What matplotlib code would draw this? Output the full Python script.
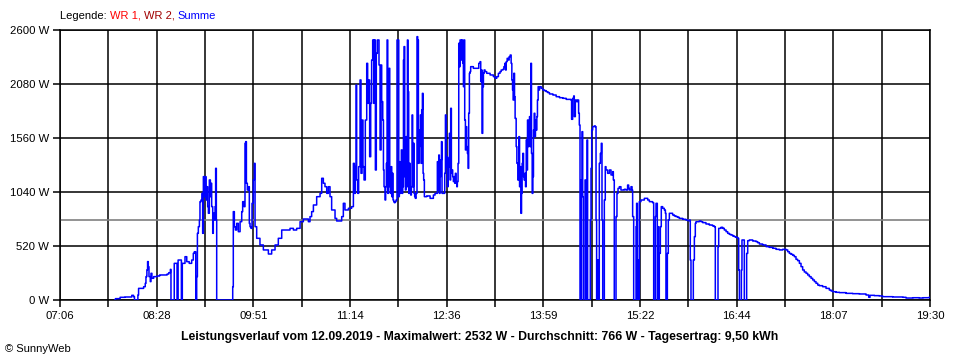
import matplotlib
matplotlib.use('Agg')
import matplotlib.pyplot as plt
import numpy as np

plt.rcParams['font.family'] = ['Liberation Sans', 'DejaVu Sans']

# ---- data: time in minutes since midnight, power in W (Summe) ----
t_morning = [473.1, 473.4, 477.4, 481.7, 487.4, 488.9, 489.7, 492.6, 493.2, 497.5, 498.9, 499.5,
             500.3, 500.9, 501.5, 502.1, 503.2, 503.8, 504.6, 506.1, 509.0, 511.2, 517.6, 519.0,
             520.4, 520.9, 523.7, 526.1, 527.0, 529.8, 530.6, 532.9, 534.4, 536.5, 538.6, 540.0,
             540.9, 542.1, 542.9, 543.5, 544.3, 545.2, 545.7, 546.6, 547.4, 548.0, 548.6, 549.4,
             550.3, 550.9, 551.5, 552.3, 552.9, 553.7, 554.6, 555.1, 555.7, 556.6, 557.1, 558.0,
             558.6, 559.1, 559.7, 560.0, 573.7, 574.2, 575.1, 576.0, 577.1, 578.5, 580.0, 581.4,
             582.2, 583.4, 584.2, 584.8, 585.4, 586.2, 587.1, 587.9, 588.5, 589.3, 590.2, 591.3,
             592.2, 592.8, 594.2, 597.0, 599.9, 604.2, 607.0, 609.9, 612.7, 615.6, 618.4, 622.7,
             625.6, 628.4, 631.3, 634.1, 638.4, 639.8, 641.2, 642.7, 645.5, 648.4, 649.8, 651.2,
             652.6, 654.1, 655.5, 656.9, 658.3, 661.2, 662.6, 665.5, 666.9, 668.3, 669.7, 672.6,
             675.4]
p_morning = [0, 13, 26, 29, 45, 32, 0, 48, 112, 128, 160, 225,
             290, 370, 320, 225, 177, 257, 209, 225, 231, 241, 250, 263,
             295, 0, 353, 0, 385, 0, 353, 417, 369, 353, 385, 449,
             465, 0, 225, 642, 706, 770, 947, 963, 1027, 642, 1188, 995,
             1188, 963, 1091, 899, 835, 1156, 995, 1124, 899, 642, 835, 770,
             899, 1268, 770, 0, 128, 851, 706, 674, 738, 658, 754, 851,
             947, 899, 1509, 1525, 1124, 1059, 1091, 738, 706, 690, 931, 1156,
             1316, 706, 594, 530, 482, 443, 482, 530, 594, 674, 674, 690,
             674, 690, 754, 780, 754, 803, 851, 915, 995, 1027, 1172, 1124,
             1091, 1027, 1091, 995, 867, 786, 761, 761, 803, 931, 867, 883,
             899]

t_late_morning = [676.9, 677.7, 678.6, 679.2, 679.7, 680.6, 681.4, 682.6, 683.4, 684.3, 685.1, 686.0,
                  687.1, 688.3, 689.1, 690.0, 690.8, 691.7, 692.5, 693.4, 694.3, 694.8, 695.7, 696.5,
                  697.4, 698.3, 698.8, 699.7]
p_late_morning = [1316, 1027, 1284, 2070, 1156, 1027, 1284, 2119, 1220, 1733, 1284, 1156,
                  1733, 2279, 1894, 2119, 1380, 1894, 2311, 2504, 1894, 2504, 1252, 2375,
                  2504, 2504, 2263, 1445]

t_noon = [700.6, 701.1, 702.0, 702.6, 703.1, 704.0, 704.5, 705.1, 705.7, 706.3, 706.8, 707.4,
          708.0, 708.5, 709.1, 709.7, 710.2, 710.8, 711.4, 712.0, 712.5, 713.4, 714.2, 715.1,
          715.7, 716.2, 716.8, 717.4, 717.9, 718.5, 719.1, 719.7, 720.2, 720.8, 721.4, 721.9,
          722.5, 723.1, 723.6, 724.2, 724.8, 725.4, 725.9, 726.5, 727.1, 727.6, 728.2, 728.8,
          729.3, 729.9, 730.5, 731.3, 731.9, 732.5, 733.1, 733.6, 734.2, 734.8, 735.3, 735.9,
          736.5, 737.0, 737.6, 739.6, 742.5, 745.3, 746.7, 748.7, 749.3, 749.9, 750.4, 751.0,
          751.6, 752.2, 752.7, 754.4, 755.0, 755.6, 756.1, 756.7, 757.3, 757.9, 758.4, 759.0,
          759.6, 760.1, 760.7, 761.3, 761.8, 762.4, 763.0, 763.6, 764.1, 764.7, 765.3, 765.8,
          766.4, 767.0, 767.6, 768.1, 769.3, 769.8, 770.4, 771.0, 771.5, 772.1, 772.7, 773.3,
          773.8, 774.4, 775.0, 775.5, 776.1, 776.7, 777.2, 779.5, 782.4, 784.1, 785.2, 785.8,
          786.4, 786.9, 787.5, 788.1, 788.7, 789.5, 790.9, 793.8, 796.6, 798.1, 799.5, 800.9,
          802.3]
p_noon = [2263, 1910, 1733, 1252, 1091, 963, 1091, 1316, 2504, 1027, 1284, 2231,
          1091, 1027, 1284, 995, 1220, 963, 947, 937, 947, 963, 2504, 2504,
          995, 1332, 1027, 1059, 1445, 1027, 1091, 2311, 2440, 1188, 1059, 1573,
          1091, 2504, 2006, 1027, 1316, 1059, 1011, 1091, 1782, 1091, 1509, 1027,
          995, 979, 1027, 2536, 2504, 1316, 1477, 1637, 1782, 1316, 1830, 1990,
          1220, 1156, 995, 1002, 979, 1011, 1027, 1332, 1059, 1396, 1027, 1188,
          1348, 1525, 1027, 1027, 1220, 1782, 1284, 1380, 1091, 1364, 1284, 1605,
          1156, 1846, 1220, 1252, 1188, 1140, 1188, 1124, 1220, 1124, 1091, 1140,
          1316, 2472, 2247, 2504, 2311, 2504, 2279, 2054, 2504, 1733, 1445, 1669,
          1477, 1412, 1268, 1798, 2183, 2199, 2247, 2231, 2231, 2279, 2295, 2103,
          2215, 1605, 2054, 2183, 2215, 2199, 2183, 2167, 2151, 2135, 2151, 2183,
          2199]

t_early_afternoon = [803.3, 804.7, 805.6, 806.4, 807.0, 807.6, 808.4, 809.3, 810.1, 811.0, 811.8, 812.4,
                     813.0, 813.5, 814.1, 814.7, 815.2, 816.1, 816.7, 817.5, 818.4, 819.0, 819.5, 820.1,
                     820.7, 821.2, 821.8, 822.4, 822.9, 823.5, 824.1, 824.7, 825.2, 825.8, 826.4, 826.9,
                     827.5, 828.1, 828.6, 829.2, 829.8, 830.4, 830.9, 831.5, 832.1, 832.6, 833.2, 833.8,
                     834.3, 834.9, 835.5, 836.1, 837.5, 838.9, 840.3, 841.8, 843.2, 844.6, 847.5, 850.3,
                     853.2, 856.0, 858.9]
p_early_afternoon = [2215, 2221, 2247, 2279, 2215, 2295, 2327, 2311, 2343, 2359, 2279, 2119,
                     2022, 1926, 2183, 1958, 1749, 1477, 1316, 1156, 1573, 1091, 1284, 835,
                     1027, 1316, 1412, 1188, 1156, 1220, 1091, 1541, 1252, 1733, 1477, 1637,
                     1766, 1477, 2279, 1412, 1027, 1188, 1637, 1798, 1573, 1733, 1637, 1766,
                     1926, 2054, 2022, 2054, 2038, 2022, 2016, 2006, 1997, 1984, 1974, 1958,
                     1948, 1942, 1932]

t_afternoon = [863.0, 863.5, 864.4, 865.3, 865.8, 866.7, 867.8, 868.7, 869.5, 870.1, 870.7, 871.8,
               872.4, 873.0, 873.5, 875.0, 875.8, 876.7, 877.2, 879.5, 880.1, 880.7, 881.5, 882.9,
               883.8, 884.4, 884.9, 885.8, 886.6, 887.2, 888.1, 888.9, 889.5, 890.1, 891.5, 892.3,
               892.9, 894.3, 895.8, 897.2, 898.6, 899.2, 900.0, 901.5, 902.3, 903.2, 904.3, 905.7,
               907.2, 908.6, 910.0, 911.4, 912.3, 912.9, 914.3, 915.2, 915.7, 916.6, 918.6, 919.1,
               919.7, 920.3, 920.9, 921.4, 922.8, 924.3, 925.7, 927.1, 928.6, 930.0, 931.4, 932.8,
               933.7, 935.1, 935.7, 936.8, 937.4, 938.0, 938.5, 939.4, 940.2, 941.4, 942.8, 943.7,
               944.2, 945.4, 946.2, 947.1, 948.5, 949.9, 951.4, 952.8, 954.2, 955.6, 958.5, 961.3,
               962.8, 964.2, 965.0, 965.6, 967.6, 968.5, 969.3, 969.9, 971.3, 972.7, 974.2, 975.6,
               978.4, 981.3, 984.1, 985.6, 986.4, 988.7, 989.3, 991.3, 992.7, 994.1, 995.6, 997.0,
               998.4, 999.8, 1001.3, 1002.7, 1004.1, 1005.5, 1006.4, 1007.0, 1008.7, 1009.2, 1010.4, 1011.2,
               1013.2, 1014.1, 1015.5, 1016.9, 1018.4, 1021.2, 1022.6, 1024.1, 1026.9, 1029.8, 1032.6, 1035.5,
               1038.3, 1041.2, 1044.0, 1046.9, 1048.3, 1049.7, 1051.1, 1052.6, 1054.0, 1055.4, 1056.8, 1058.3,
               1059.7, 1061.1, 1062.5, 1064.0, 1065.4, 1066.8, 1068.3, 1069.7, 1071.1, 1072.5, 1074.0, 1075.4,
               1078.2, 1081.1, 1083.9, 1085.4, 1086.8, 1089.6, 1092.5, 1098.2, 1103.9, 1109.6, 1115.3, 1117.6,
               1118.7, 1122.4, 1126.7, 1129.5, 1138.1, 1146.7, 1149.5, 1155.2, 1160.9, 1163.8, 1169.5]
p_afternoon = [1926, 1740, 1942, 1965, 1766, 1926, 1910, 1926, 1798, 1685, 0, 1156,
               1621, 995, 0, 1156, 0, 1541, 0, 770, 1268, 1637, 1669, 1676,
               1669, 770, 0, 385, 0, 1316, 1412, 1509, 770, 0, 963, 1284,
               1252, 1220, 1252, 1204, 1236, 1156, 0, 803, 1027, 1075, 1091, 1059,
               1059, 1066, 1059, 1107, 1075, 1059, 1091, 1059, 803, 0, 706, 931,
               0, 385, 0, 947, 963, 963, 979, 979, 963, 947, 947, 937,
               0, 803, 931, 0, 706, 0, 449, 706, 899, 883, 867, 835,
               0, 449, 770, 835, 835, 819, 809, 803, 796, 786, 777, 770,
               764, 770, 385, 0, 385, 610, 738, 754, 754, 761, 754, 745,
               732, 722, 713, 706, 0, 514, 690, 700, 690, 674, 658, 642,
               632, 626, 616, 610, 603, 594, 289, 0, 289, 578, 578, 0,
               449, 571, 578, 578, 568, 562, 552, 539, 530, 514, 507, 498,
               488, 482, 488, 482, 465, 449, 440, 430, 417, 392, 379, 353,
               321, 289, 270, 257, 241, 225, 209, 193, 177, 161, 144, 138,
               128, 112, 96, 87, 80, 74, 71, 64, 61, 58, 48, 26,
               45, 42, 39, 32, 29, 26, 19, 22, 19, 22, 26]

x_start_min = 426      # 07:06
x_end_min = 1170       # 19:30
x_tick_labels = ['07:06', '', '08:28', '', '09:51', '', '11:14', '', '12:36', '', '13:59', '',
                 '15:22', '', '16:44', '', '18:07', '', '19:30']
y_ticks = [0, 520, 1040, 1560, 2080, 2600]
y_tick_labels = ['0 W', '520 W', '1040 W', '1560 W', '2080 W', '2600 W']
average_w = 766
title = ('Leistungsverlauf vom 12.09.2019 - Maximalwert: 2532 W - Durchschnitt: 766 W - '
         'Tagesertrag: 9,50 kWh')

t_all = np.array(t_morning + t_late_morning + t_noon + t_early_afternoon + t_afternoon)
p_all = np.array(p_morning + p_late_morning + p_noon + p_early_afternoon + p_afternoon)

fig = plt.figure(figsize=(9.6, 3.6), dpi=100)
ax = fig.add_axes([60 / 960, 60 / 360, 870 / 960, 270 / 360])

ax.set_xlim(x_start_min, x_end_min)
ax.set_ylim(0, 2600)
xt = np.linspace(x_start_min, x_end_min, len(x_tick_labels))
ax.set_xticks(xt)
ax.set_xticklabels(x_tick_labels)
ax.set_yticks(y_ticks)
ax.set_yticklabels(y_tick_labels)

for v in xt:
    ax.axvline(v, color='black', lw=1.1, zorder=1)
for v in y_ticks:
    ax.axhline(v, color='black', lw=1.1, zorder=1)
ax.axhline(average_w, color='#808080', lw=1.2, zorder=2)

ax.plot(t_all, p_all, color='#0000FF', lw=1.1, drawstyle='steps-post', zorder=3)

for s in ax.spines.values():
    s.set_color('black')
    s.set_linewidth(1.1)
ax.tick_params(axis='both', direction='out', length=5, width=1.1, colors='black',
               labelsize=8.2, pad=3)
ax.tick_params(axis='x', pad=3)

fig.text(0.5, 1 - 337 / 360, title, ha='center', va='center', fontsize=8.8,
         fontweight='bold')
fig.text(5 / 960, 1 - 349 / 360, '\u00a9 SunnyWeb', ha='left', va='center', fontsize=8)

# legend with coloured pieces
legend_parts = [('Legende: ', 'black'), ('WR 1, ', '#FF0000'), ('WR 2, ', '#A00000'),
                ('Summe', '#0000FF')]
fig.canvas.draw()
renderer = fig.canvas.get_renderer()
xpos = 60
for txt, col in legend_parts:
    tt = fig.text(xpos / 960, 1 - 16 / 360, txt, ha='left', va='center', fontsize=8,
                  color=col)
    bb = tt.get_window_extent(renderer=renderer)
    xpos += bb.width

fig.savefig('out.png', dpi=100)
